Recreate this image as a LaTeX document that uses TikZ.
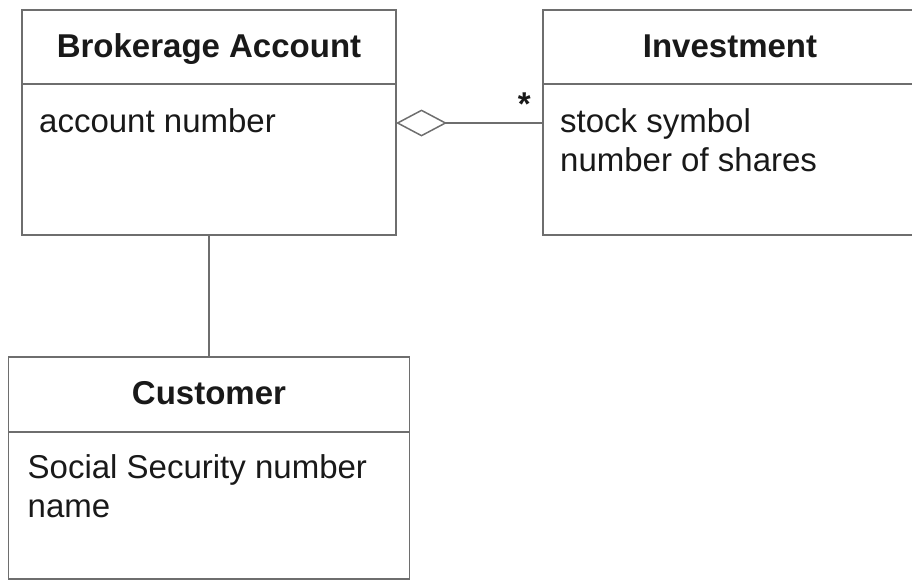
\documentclass[tikz,border=0pt]{standalone}
\usepackage{fontspec}
\setmainfont{Liberation Sans}
\usetikzlibrary{arrows.meta, positioning}

\definecolor{linegray}{RGB}{110,110,110}
\definecolor{textblack}{RGB}{25,25,25}

\tikzset{
	classhead/.style={draw=linegray, line width=1.5pt, outer sep=0pt, inner sep=0pt,
		minimum width=374pt, minimum height=74pt, text height=24pt, text depth=4pt,
		font=\fontsize{33}{39}\selectfont\bfseries, text=textblack},
	classbody/.style={draw=linegray, line width=1.5pt, outer sep=0pt,
		minimum width=374pt, minimum height=151pt},
	attrlist/.style={anchor=north west, inner sep=0pt, align=left,
		font=\fontsize{33}{39}\selectfont, text=textblack},
}

\begin{document}
\begin{tikzpicture}[x=1pt, y=1pt]
	\useasboundingbox (0,0) rectangle (912,-581);
	\clip (0,0) rectangle (912,-581);

	\node (account) [classhead] at (209,-47) {Brokerage Account};
	\node (accountbody) [classbody, below=0pt of account] {};
	\node (investment) [classhead, right=147pt of account] {Investment};
	\node (investmentbody) [classbody, below=0pt of investment] {};
	\node (customer) [classhead, minimum width=401pt, minimum height=75pt, below=122pt of accountbody] {Customer};
	\node (customerbody) [classbody, minimum width=401pt, minimum height=147pt, below=0pt of customer] {};
	
	\node (accountattr) [attrlist] at ([shift={(17pt,-24pt)}]accountbody.north west) {account number};
	\node (investmentattr) [attrlist] at ([shift={(17pt,-24pt)}]investmentbody.north west) {stock symbol\\number of shares};
	\node (customerattr) [attrlist] at ([shift={(19pt,-22pt)}]customerbody.north west) {Social Security number\\name};
	
	\coordinate (whole) at ([yshift=-39pt]accountbody.north east);
	\coordinate (part) at ([yshift=-39pt]investmentbody.north west);
	\node (many) [anchor=base east, inner sep=0pt, font=\fontsize{33}{39}\selectfont\bfseries, text=textblack]
		at ([shift={(-12pt,7.5pt)}]part) {*};
	
	\path [draw=linegray, line width=1.5pt]
		(whole) edge [{Diamond[open, length=51pt, width=27pt]}-] (part)
		(accountbody) edge (customer);
		
\end{tikzpicture}
\end{document}
